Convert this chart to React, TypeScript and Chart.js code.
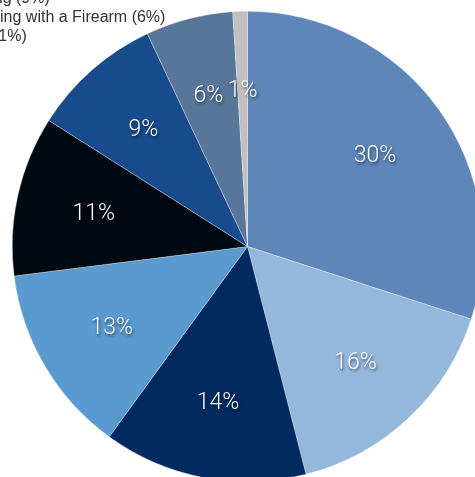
import React, { useEffect, useRef } from "react";
import { Chart, registerables } from "chart.js";

Chart.register(...registerables);

const categories = [
  "Shot or Shot At",
  "Injured",
  "Killed",
  "Home Invasion",
  "Drive-by",
  "Carjacking",
  "Threatening with a Firearm",
  "Suicide",
];
const shares = [30, 16, 14, 13, 11, 9, 6, 1];
const sliceColors = [
  "#5e86b8",
  "#94b8dc",
  "#012b60",
  "#5a9ad0",
  "#000812",
  "#174b8c",
  "#58769a",
  "#c0c0c0",
];

const labelPlugin = {
  id: "sliceLabels",
  afterDatasetsDraw(chart: any) {
    const ctx = chart.ctx;
    const meta = chart.getDatasetMeta(0);
    ctx.save();
    ctx.font = "300 23px Roboto, 'Liberation Sans', sans-serif";
    ctx.textAlign = "center";
    ctx.textBaseline = "middle";
    ctx.fillStyle = "#ffffff";
    ctx.shadowColor = "rgba(0,0,0,0.55)";
    ctx.shadowBlur = 3;
    ctx.shadowOffsetX = 1;
    ctx.shadowOffsetY = 2;
    meta.data.forEach((arc: any, i: number) => {
      const p = arc.getProps(["x", "y", "startAngle", "endAngle", "outerRadius"], true);
      const mid = (p.startAngle + p.endAngle) / 2;
      const r = p.outerRadius * 0.67;
      ctx.fillText(shares[i] + "%", p.x + Math.cos(mid) * r, p.y + Math.sin(mid) * r + 2);
    });
    ctx.restore();
  },
};

export default function App() {
  const ref = useRef<HTMLCanvasElement>(null);
  useEffect(() => {
    if (!ref.current) return;
    const chart = new Chart(ref.current, {
      type: "pie",
      data: {
        labels: categories,
        datasets: [
          {
            data: shares,
            backgroundColor: sliceColors,
            borderColor: "rgba(255,255,255,0.6)",
            borderWidth: 0.5,
          },
        ],
      },
      options: {
        animation: false,
        responsive: true,
        maintainAspectRatio: false,
        layout: { padding: 0 },
        plugins: {
          legend: { display: false },
          tooltip: { enabled: false },
        },
      },
      plugins: [labelPlugin],
    });
    return () => chart.destroy();
  }, []);

  const legendLines = categories.map((c, i) => `${c} (${shares[i]}%)`);

  return (
    <div
      style={{
        position: "fixed",
        left: 0,
        top: 0,
        width: 475,
        height: 477,
        overflow: "hidden",
        background: "#ffffff",
      }}
    >
      <div style={{ position: "absolute", left: 12, top: 11, width: 471, height: 471 }}>
        <canvas ref={ref} />
      </div>
      <div
        style={{
          position: "absolute",
          left: -64,
          top: -107,
          font: "16px 'Liberation Sans', Arial, sans-serif",
          lineHeight: "19px",
          color: "#333333",
          whiteSpace: "nowrap",
        }}
      >
        {legendLines.map((t) => (
          <div key={t}>{t}</div>
        ))}
      </div>
    </div>
  );
}
